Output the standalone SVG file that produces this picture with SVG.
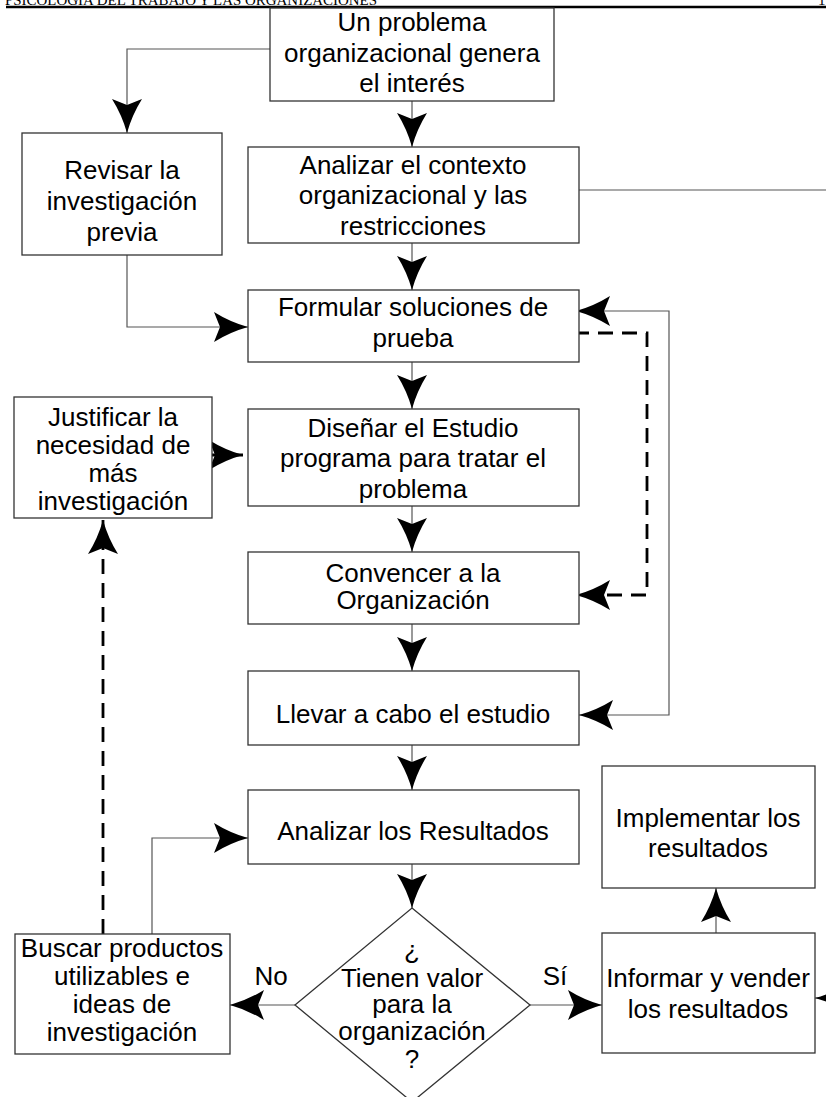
<svg xmlns="http://www.w3.org/2000/svg" width="826" height="1097" viewBox="0 0 826 1097">
<defs>
<style>
.box{fill:#fff;stroke:#333;stroke-width:1.3}
.t{font-family:"Liberation Sans",Arial,sans-serif;font-size:26px;fill:#000;text-anchor:middle}
.c{fill:none;stroke:#555;stroke-width:1.2}
.d{fill:none;stroke:#000;stroke-width:2.8;stroke-dasharray:15 9}
.hdr{font-family:"Liberation Serif","Times New Roman",serif;font-size:15px;fill:#000}
</style>
<marker id="ah" viewBox="-36 -18 40 36" refX="0" refY="0" markerWidth="40" markerHeight="36" markerUnits="userSpaceOnUse" orient="auto-start-reverse" overflow="visible">
<path d="M0,0 Q-18,-5 -34,-15 L-28,0 L-34,15 Q-18,5 0,0 Z" fill="#000"/>
</marker>
</defs>
<rect width="826" height="1097" fill="#fff"/>
<g id="header">
<text class="hdr" x="5" y="5" textLength="372" lengthAdjust="spacingAndGlyphs">PSICOLOGÍA DEL TRABAJO Y LAS ORGANIZACIONES</text>
<text class="hdr" x="818" y="5">1</text>
<line x1="6" y1="7" x2="826" y2="7" stroke="#000" stroke-width="2.6"/>
</g>
<g id="connectors">
<path class="c" d="M270,49 H127 V133" marker-end="url(#ah)"/>
<path class="c" d="M412,101 V147" marker-end="url(#ah)"/>
<path class="c" d="M579,190 H826"/>
<path class="c" d="M412,243 V290" marker-end="url(#ah)"/>
<path class="c" d="M127,255 V327 H248" marker-end="url(#ah)"/>
<path class="c" d="M412,362 V409" marker-end="url(#ah)"/>
<path class="c" d="M412,506 V552" marker-end="url(#ah)"/>
<path class="c" d="M412,624 V671" marker-end="url(#ah)"/>
<path class="c" d="M412,745 V790" marker-end="url(#ah)"/>
<path class="c" d="M412,864 V908" marker-end="url(#ah)"/>
<path class="c" d="M295,1005 H230" marker-end="url(#ah)"/>
<path class="c" d="M530,1005 H602" marker-end="url(#ah)"/>
<path class="c" d="M716,933 V888" marker-end="url(#ah)"/>
<path class="c" d="M152,934 V838 H248" marker-end="url(#ah)"/>
<path class="c" d="M579,715 H669 V311 H576" marker-start="url(#ah)" marker-end="url(#ah)"/>
<path class="c" d="M840,998 H815" marker-end="url(#ah)"/>
<path class="d" d="M103,934 V520" marker-end="url(#ah)"/>
<path class="d" d="M212,455 H243" marker-end="url(#ah)"/>
<path class="d" d="M574,333 H647 V595 H576" marker-end="url(#ah)"/>
</g>
<g id="n1">
<rect class="box" x="270" y="8" width="284" height="93"/>
<text class="t" x="412" y="31">Un problema</text>
<text class="t" x="412" y="62">organizacional genera</text>
<text class="t" x="412" y="92">el interés</text>
</g>
<g id="n2">
<rect class="box" x="22" y="133" width="200" height="122"/>
<text class="t" x="122" y="179">Revisar la</text>
<text class="t" x="122" y="210">investigación</text>
<text class="t" x="122" y="241">previa</text>
</g>
<g id="n3">
<rect class="box" x="248" y="147" width="331" height="96"/>
<text class="t" x="413" y="174">Analizar el contexto</text>
<text class="t" x="413" y="204">organizacional y las</text>
<text class="t" x="413" y="235">restricciones</text>
</g>
<g id="n4">
<rect class="box" x="248" y="290" width="331" height="72"/>
<text class="t" x="413" y="316">Formular soluciones de</text>
<text class="t" x="413" y="347">prueba</text>
</g>
<g id="n5">
<rect class="box" x="14" y="397" width="198" height="121"/>
<text class="t" x="113" y="426">Justificar la</text>
<text class="t" x="113" y="454">necesidad de</text>
<text class="t" x="113" y="482">más</text>
<text class="t" x="113" y="510">investigación</text>
</g>
<g id="n6">
<rect class="box" x="248" y="409" width="331" height="97"/>
<text class="t" x="413" y="437">Diseñar el Estudio</text>
<text class="t" x="413" y="467">programa para tratar el</text>
<text class="t" x="413" y="498">problema</text>
</g>
<g id="n7">
<rect class="box" x="248" y="552" width="331" height="72"/>
<text class="t" x="413" y="582">Convencer a la</text>
<text class="t" x="413" y="609">Organización</text>
</g>
<g id="n8">
<rect class="box" x="248" y="671" width="331" height="74"/>
<text class="t" x="413" y="723">Llevar a cabo el estudio</text>
</g>
<g id="n9">
<rect class="box" x="248" y="790" width="331" height="74"/>
<text class="t" x="413" y="840">Analizar los Resultados</text>
</g>
<g id="n10">
<polygon class="box" points="412,908 530,1005 412,1102 295,1005"/>
<text class="t" x="412" y="959">¿</text>
<text class="t" x="412" y="987">Tienen valor</text>
<text class="t" x="412" y="1013">para la</text>
<text class="t" x="412" y="1040">organización</text>
<text class="t" x="412" y="1068">?</text>
</g>
<g id="labels">
<text class="t" x="271" y="985">No</text>
<text class="t" x="555" y="985">Sí</text>
</g>
<g id="n11">
<rect class="box" x="15" y="934" width="215" height="120"/>
<text class="t" x="122" y="957">Buscar productos</text>
<text class="t" x="122" y="985">utilizables e</text>
<text class="t" x="122" y="1013">ideas de</text>
<text class="t" x="122" y="1041">investigación</text>
</g>
<g id="n12">
<rect class="box" x="602" y="766" width="213" height="122"/>
<text class="t" x="708" y="827">Implementar los</text>
<text class="t" x="708" y="857">resultados</text>
</g>
<g id="n13">
<rect class="box" x="602" y="933" width="213" height="120"/>
<text class="t" x="708" y="987">Informar y vender</text>
<text class="t" x="708" y="1018">los resultados</text>
</g>
</svg>
